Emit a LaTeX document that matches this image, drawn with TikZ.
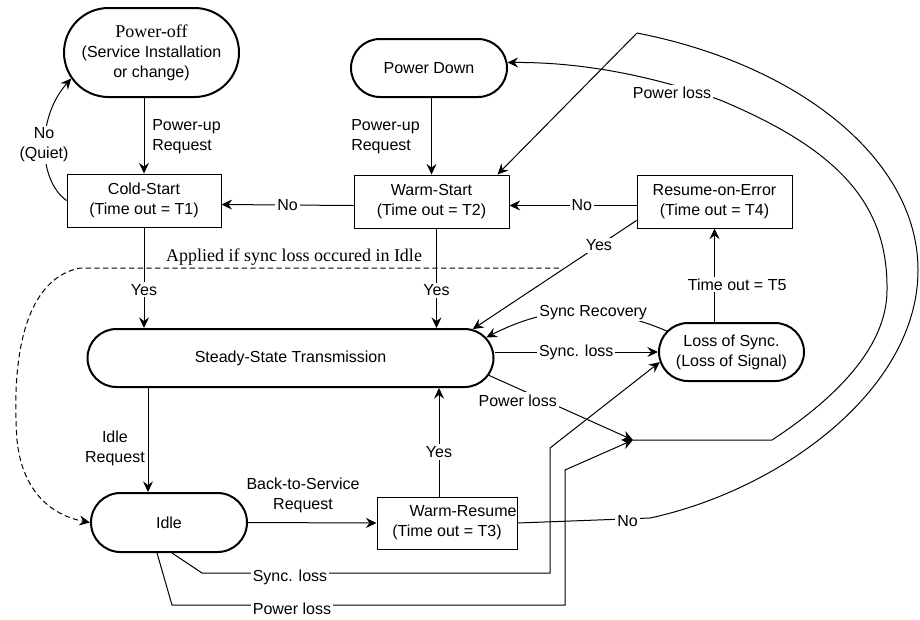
\documentclass[tikz,border=0pt]{standalone}
\usepackage{fontspec}
\setmainfont{Liberation Serif}
\setsansfont{Liberation Sans}
\usetikzlibrary{arrows.meta,shapes.misc,calc}
\begin{document}
\begin{tikzpicture}[x=0.75pt,y=-0.75pt,
  sf/.style={font=\sffamily\fontsize{12}{15}\selectfont},
  stadium/.style={rounded rectangle, draw, line width=1.5pt, inner sep=0pt, align=center, sf},
  box/.style={rectangle, draw, line width=0.75pt, inner sep=0pt, align=center, sf},
  conn/.style={line width=0.75pt},
  arr/.style={conn, -{Stealth[length=8pt,width=7.5pt,inset=2.8pt]}},
  lab/.style={fill=white, inner sep=1.5pt, sf, align=center},
  plain/.style={inner sep=0pt, sf, align=center},
  serifbig/.style={font=\rmfamily\fontsize{13.5}{16}\selectfont}
]
\fill[white] (0,0) rectangle (920,619);
\useasboundingbox (0,0) rectangle (920,619);

% states
\node[stadium, minimum width=131.25pt, minimum height=66.75pt] (poweroff) at (151.5,52.5)
  {{\rmfamily\fontsize{13.5}{16}\selectfont Power-off}\\(Service Installation\\or change)};
\node[stadium, minimum width=117pt, minimum height=43.5pt] (powerdown) at (429,68) {Power Down};
\node[box, minimum width=115.5pt, minimum height=39.75pt] (cold) at (144,200.5) {Cold-Start\\(Time out = T1)};
\node[box, minimum width=116.25pt, minimum height=39.75pt] (warm) at (431.5,201.5) {Warm-Start\\(Time out = T2)};
\node[box, minimum width=116.25pt, minimum height=39.75pt] (resume) at (714.5,201.5) {Resume-on-Error\\(Time out = T4)};
\node[stadium, minimum width=304.5pt, minimum height=43.5pt] (steady) at (290.5,358) {Steady-State Transmission};
\node[stadium, minimum width=108.75pt, minimum height=43.5pt] (los) at (731.5,352) {Loss of Sync.\\(Loss of Signal)};
\node[stadium, minimum width=117pt, minimum height=44.25pt] (idle) at (169,522.5) {Idle};
\node[box, minimum width=105pt, minimum height=39pt] (wres) at (447,523) {\hspace*{2em}Warm-Resume\\(Time out = T3)};

% helper coordinates
\coordinate (pl) at (633,440);
\coordinate (wy) at ($(warm.south)+(5,0)$);
\coordinate (ir) at ($(idle.north)+(-21,0)$);
\coordinate (wy2) at ($(wres.north)+(-8,0)$);
\coordinate (wsin) at ($(warm.north east)+(-12,0)$);
\coordinate (dashend) at (559,268);

% power-off / cold start
\draw[arr] (poweroff.south -| cold.north) -- (cold.north);
\node[plain, anchor=west, align=left] at (152,137) {Power-up\\Request};
\draw[arr] (cold.west) .. controls (38,180) and (36,118) .. (poweroff.198);
\node[lab] at (44,145) {No\\(Quiet)};

% power down / warm start
\draw[arr] (warm.north |- powerdown.south) -- (warm.north);
\node[plain, anchor=west, align=left] at (351,137) {Power-up\\Request};

\draw[arr] ([yshift=-3pt]warm.west) -- node[lab]{No} ([yshift=-3pt]cold.east);
\draw[arr] ([yshift=-3pt]resume.west) -- node[lab, pos=0.43]{No} ([yshift=-3pt]warm.east);

% to steady state
\draw[arr] (cold.south) -- node[lab, pos=0.62]{Yes} (cold.south |- steady.north);
\draw[arr] (wy) -- node[lab, pos=0.62]{Yes} (wy |- steady.north);
\draw[arr] ($(resume.south west)+(0,-8)$) -- node[lab, pos=0.23]{Yes} (steady.9);

% dashed
\node[serifbig] at (294,257) {Applied if sync loss occured in Idle};
\draw[arr, dash pattern=on 4pt off 2.5pt] (dashend) -- (80,268) .. controls (20,280) and (12,370) .. (17,440)
   .. controls (22,490) and (50,515) .. (idle.west);

% loss of sync
\draw[arr] (resume.south |- los.north) -- node[lab, pos=0.4, xshift=17pt]{Time out = T5} (resume.south);
\draw[arr] (los.162) to[bend right=25] node[lab, pos=0.4]{Sync Recovery} (steady.6);
\draw[arr] (steady.east |- los.west) -- node[lab]{Sync. loss} (los.west);

% power loss
\draw[arr] (steady.-5.5) -- node[lab, pos=0.2, yshift=-9pt]{Power loss} (pl);
\draw[arr] (pl) -- (772,440) .. controls (830,402) and (887,350) .. (887,290)
   .. controls (888,205) and (840,150) .. (720,100)
   .. controls (650,75) and (580,62) .. (powerdown.4);
\node[lab] at (672,93) {Power loss};

% warm-resume No
\draw[arr] (wres.east) -- node[lab, pos=0.83, yshift=-2pt]{No} (650,518)
   .. controls (780,490) and (918,390) .. (918,270)
   .. controls (918,160) and (800,65) .. (637,33) -- (wsin);

% steady / idle / warm resume
\draw[arr] (ir |- steady.south) -- (ir);
\node[plain, anchor=east] at (145,448) {Idle\\Request};
\draw[arr] (idle.east) -- (wres.west);
\node[plain] at (303,495) {Back-to-Service\\Request};
\draw[arr] (wy2) -- node[lab, pos=0.41]{Yes} (wy2 |- steady.south);

% idle losses
\draw[arr] ($(idle.south)+(3,0)$) -- (202,573) -- node[lab, yshift=-3pt]{Sync. loss} (378,573) -- (550,573) -- (550,448) -- (los.188);
\draw[arr] ($(idle.south)+(-12,0)$) -- (172,605) -- node[lab, yshift=-3pt]{Power loss} (412,605) -- (565,605) -- (565,470) -- (pl);
\end{tikzpicture}
\end{document}
